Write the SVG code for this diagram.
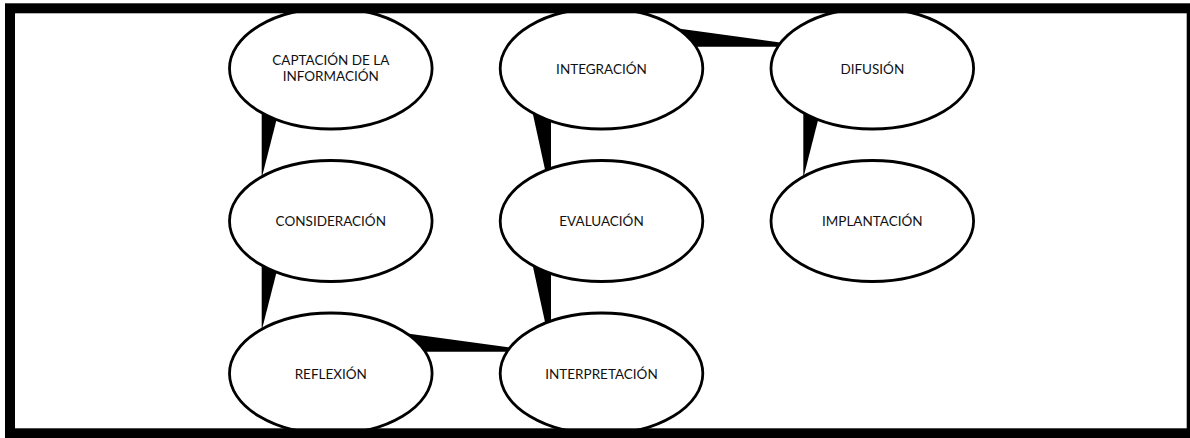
<svg xmlns="http://www.w3.org/2000/svg" width="1190" height="438" viewBox="0 0 1190 438">
  <style>
    .node ellipse { fill: #ffffff; stroke: #000000; stroke-width: 2.8; }
    .node text { font-family: Lato, "Liberation Sans", sans-serif; font-size: 13.5px; fill: #111111; text-anchor: middle; }
    .wedge { fill: #000000; stroke: none; }
    .frame { fill: none; stroke: #000000; stroke-width: 10; }
  </style>
  <rect width="1190" height="438" fill="#ffffff"/>

  <!-- tapered connectors, drawn beneath the ellipses -->
  <g id="connectors">
    <polygon class="wedge" points="261.7,105 280.3,105 261.7,178"/>
    <polygon class="wedge" points="261.7,257.5 280.3,257.5 261.7,330.5"/>
    <polygon class="wedge" points="400,332.4 540,351.7 400,351.7"/>
    <polygon class="wedge" points="530.4,255 551,255 551,349.5"/>
    <polygon class="wedge" points="530.4,102.5 551,102.5 551,197"/>
    <polygon class="wedge" points="670.8,27.4 810.8,46.7 670.8,46.7"/>
    <polygon class="wedge" points="803.3,105 821.9,105 803.3,178"/>
  </g>

  <g id="captacion" class="node">
    <ellipse cx="330.8" cy="68.5" rx="101.3" ry="60.5"/>
    <text x="330.8" y="65">CAPTACIÓN DE LA</text>
    <text x="330.8" y="81">INFORMACIÓN</text>
  </g>
  <g id="consideracion" class="node">
    <ellipse cx="330.8" cy="221" rx="101.3" ry="60.5"/>
    <text x="330.8" y="226">CONSIDERACIÓN</text>
  </g>
  <g id="reflexion" class="node">
    <ellipse cx="330.8" cy="373.5" rx="101.3" ry="60.5"/>
    <text x="330.8" y="378.5">REFLEXIÓN</text>
  </g>
  <g id="integracion" class="node">
    <ellipse cx="601.5" cy="68.5" rx="101.3" ry="60.5"/>
    <text x="601.5" y="73.5">INTEGRACIÓN</text>
  </g>
  <g id="evaluacion" class="node">
    <ellipse cx="601.5" cy="221" rx="101.3" ry="60.5"/>
    <text x="601.5" y="226">EVALUACIÓN</text>
  </g>
  <g id="interpretacion" class="node">
    <ellipse cx="601.5" cy="373.5" rx="101.3" ry="60.5"/>
    <text x="601.5" y="378.5">INTERPRETACIÓN</text>
  </g>
  <g id="difusion" class="node">
    <ellipse cx="872.3" cy="68.5" rx="101.3" ry="60.5"/>
    <text x="872.3" y="73.5">DIFUSIÓN</text>
  </g>
  <g id="implantacion" class="node">
    <ellipse cx="872.3" cy="221" rx="101.3" ry="60.5"/>
    <text x="872.3" y="226">IMPLANTACIÓN</text>
  </g>

  <!-- heavy outer frame on top -->
  <rect class="frame" x="10" y="8.3" width="1181.7" height="425"/>
</svg>
